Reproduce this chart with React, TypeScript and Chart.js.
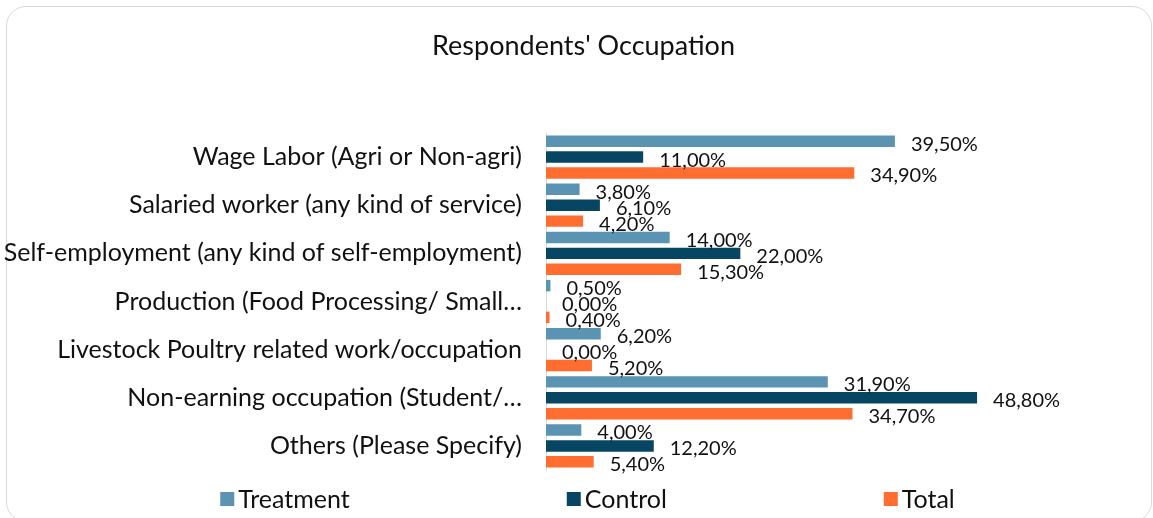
import React, { useEffect, useRef } from "react";
import { Chart, registerables } from "chart.js";

Chart.register(...registerables);

const categories = [
  "Wage Labor (Agri or Non-agri)",
  "Salaried worker (any kind of service)",
  "Self-employment (any kind of self-employment)",
  "Production (Food Processing/ Small…",
  "Livestock Poultry related work/occupation",
  "Non-earning occupation (Student/…",
  "Others (Please Specify)",
];
const seriesNames = ["Treatment", "Control", "Total"];
const treatment = [39.5, 3.8, 14.0, 0.5, 6.2, 31.9, 4.0];
const control = [11.0, 6.1, 22.0, 0.0, 0.0, 48.8, 12.2];
const total = [34.9, 4.2, 15.3, 0.4, 5.2, 34.7, 5.4];
const xMax = 60;
const chartTitle = "Respondents' Occupation";

const colors = ["#5B93B3", "#064663", "#FF6E30"];
const FONT = "Lato, 'Open Sans', sans-serif";

const fmt = (v: number) => v.toFixed(2).replace(".", ",") + "%";

const dataLabelPlugin = {
  id: "dataLabels",
  afterDatasetsDraw(chart: any) {
    const ctx = chart.ctx;
    ctx.save();
    ctx.font = `20px ${FONT}`;
    ctx.fillStyle = "#111";
    ctx.textAlign = "left";
    ctx.textBaseline = "middle";
    chart.data.datasets.forEach((ds: any, di: number) => {
      const meta = chart.getDatasetMeta(di);
      meta.data.forEach((el: any, i: number) => {
        ctx.fillText(fmt(ds.data[i]), el.x + 16, el.y + 3);
      });
    });
    ctx.restore();
  },
};

const titlePlugin = {
  id: "customTitle",
  afterDraw(chart: any) {
    const ctx = chart.ctx;
    ctx.save();
    ctx.font = `27px ${FONT}`;
    ctx.fillStyle = "#111";
    ctx.textAlign = "center";
    ctx.textBaseline = "middle";
    ctx.fillText(chartTitle, chart.width / 2 + 7, 46);
    ctx.restore();
  },
};

const legendPlugin = {
  id: "customLegend",
  afterDraw(chart: any) {
    const ctx = chart.ctx;
    ctx.save();
    ctx.font = `25px ${FONT}`;
    ctx.textBaseline = "middle";
    ctx.textAlign = "left";
    const box = 14;
    const gapBoxText = 4;
    const gap = 217;
    const widths = chart.data.datasets.map(
      (ds: any) => box + gapBoxText + ctx.measureText(ds.label).width
    );
    const totalW = widths.reduce((a: number, b: number) => a + b, 0) + gap * (widths.length - 1);
    const center = chart.width / 2 + 11;
    let x = center - totalW / 2;
    const y = 499;
    chart.data.datasets.forEach((ds: any, i: number) => {
      ctx.fillStyle = ds.backgroundColor;
      ctx.fillRect(x, y - box / 2, box, box);
      ctx.fillStyle = "#111";
      ctx.fillText(ds.label, x + box + gapBoxText, y + 1);
      x += widths[i] + gap;
    });
    ctx.restore();
  },
};

export default function App() {
  const ref = useRef<HTMLCanvasElement | null>(null);

  useEffect(() => {
    if (!ref.current) return;
    const values = [treatment, control, total];
    const chart = new Chart(ref.current, {
      type: "bar",
      data: {
        labels: categories,
        datasets: seriesNames.map((name, i) => ({
          label: name,
          data: values[i],
          backgroundColor: colors[i],
          borderWidth: 0,
          categoryPercentage: 0.99,
          barPercentage: 0.72,
        })),
      },
      options: {
        indexAxis: "y",
        animation: false,
        responsive: false,
        maintainAspectRatio: false,
        layout: { padding: { left: 0, right: 77, top: 133, bottom: 48 } },
        plugins: {
          legend: { display: false },
          tooltip: { enabled: false },
          title: { display: false },
        },
        scales: {
          x: {
            display: false,
            min: 0,
            max: xMax,
          },
          y: {
            afterFit: (scale: any) => {
              scale.width = 546;
            },
            grid: { display: true, color: "rgba(0,0,0,0)", drawTicks: false },
            border: { display: true, color: "#d9d9d9", width: 1 },
            ticks: {
              autoSkip: false,
              padding: 24,
              color: "#111",
              font: { family: FONT, size: 25 },
            },
          },
        },
      },
      plugins: [dataLabelPlugin, titlePlugin, legendPlugin],
    } as any);
    return () => chart.destroy();
  }, []);

  return (
    <div style={{ position: "absolute", left: 0, top: 0, width: 1153, height: 518, overflow: "hidden", background: "#fff" }}>
      <div
        style={{
          position: "absolute",
          left: 6,
          top: 6,
          width: 1146,
          height: 516,
          boxSizing: "border-box",
          border: "1px solid #d9d9d9",
          borderRadius: 20,
        }}
      />
      <canvas ref={ref} width={1153} height={518} style={{ position: "absolute", left: 0, top: 0, width: 1153, height: 518 }} />
    </div>
  );
}
